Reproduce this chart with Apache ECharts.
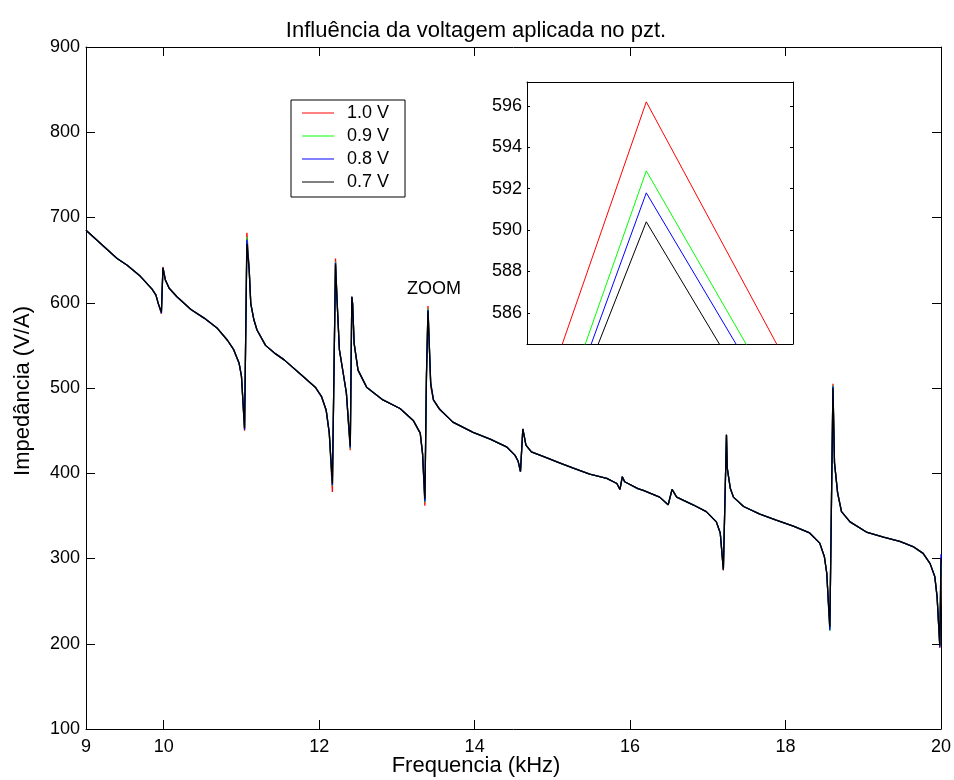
<!DOCTYPE html>
<html><head><meta charset="utf-8">
<script src="https://cdn.jsdelivr.net/npm/echarts@6/dist/echarts.min.js"></script>
<style>html,body{margin:0;padding:0;background:#fff}#c{width:954px;height:780px}</style>
</head><body><div id="c"></div>
<script>
// ---- data (frequency in kHz, impedance in V/A) ----
const freq = [9.00,9.23,9.40,9.53,9.70,9.85,9.90,9.93,9.97,9.99,
  10.02,10.07,10.17,10.35,10.52,10.69,10.82,10.90,10.97,11.00,
  11.04,11.07,11.10,11.12,11.16,11.20,11.31,11.44,11.55,11.75,
  11.95,12.03,12.09,12.13,12.17,12.21,12.23,12.26,12.31,12.35,
  12.40,12.42,12.43,12.45,12.50,12.61,12.82,13.04,13.21,13.30,
  13.33,13.36,13.38,13.40,13.435,13.47,13.55,13.72,13.98,14.20,
  14.41,14.52,14.56,14.59,14.62,14.66,14.73,14.93,15.10,15.27,
  15.48,15.70,15.83,15.87,15.90,15.93,16.10,16.17,16.38,16.49,
  16.54,16.60,16.81,16.98,17.11,17.16,17.20,17.24,17.25,17.29,
  17.33,17.46,17.67,17.88,18.10,18.31,18.44,18.50,18.53,18.57,
  18.61,18.63,18.67,18.72,18.83,19.04,19.26,19.47,19.64,19.77,
  19.86,19.92,19.95,19.985,20.00];

const v10 = [685,666,652,644,631,616,609,599,587,642,
  627,617,607,592,582,570,556,545,529,514,
  450,682,638,599,580,568,550,540,533,517,
  501,490,474,447,378,652,603,545,517,494,
  427,607,599,552,521,501,486,476,462,447,
  423,362,512.2,596.2,501.5,486,475,460,448,440,
  431,421,414,402,452,433,425,418,412,406,
  399,394,388,381,396,390,382,380,372,363,
  381,372,363,355,343,330,286,445,406,382,
  372,361,352,345,338,330,318,302,283,218,
  505,412,377,355,343,331,325,320,314,306,
  294,279,255,195,280];

const v09 = [685,666,652,644,631,616,609,599,588,641,
  627,617,607,592,582,570,556,545,529,514,
  452,677,638,599,580,568,550,540,533,517,
  501,490,474,447,385,648,603,545,517,494,
  429,607,599,552,521,501,486,476,462,447,
  423,366,510.2,592.86,504.4,486,475,460,448,440,
  431,421,414,402,452,433,425,418,412,406,
  399,394,388,381,396,390,382,380,372,363,
  381,372,363,355,343,330,287,445,406,382,
  372,361,352,345,338,330,318,302,283,215,
  503,412,377,355,343,331,325,320,314,306,
  294,279,255,197,295];

const v08 = [685,666,652,644,631,616,609,599,588,641,
  627,617,607,592,582,570,556,545,529,514,
  451,674,638,599,580,568,550,540,533,517,
  501,490,474,447,386,647,603,545,517,494,
  430,607,599,552,521,501,486,476,462,447,
  423,367,511.8,591.8,505.9,486,475,460,448,440,
  431,421,414,402,452,433,425,418,412,406,
  399,394,388,381,396,390,382,380,372,363,
  381,372,363,355,343,330,287,445,406,382,
  372,361,352,345,338,330,318,302,283,216,
  502,412,377,355,343,331,325,320,314,306,
  294,279,255,196,305];

const v07 = [685,666,652,644,631,616,609,599,589,641,
  627,617,607,592,582,570,556,545,529,514,
  453,669,638,599,580,568,550,540,533,517,
  501,490,474,447,388,645,603,545,517,494,
  432,607,599,552,521,501,486,476,462,447,
  423,370,516.3,590.4,505.1,486,475,460,448,440,
  431,421,414,402,452,433,425,418,412,406,
  399,394,388,381,396,390,382,380,372,363,
  381,372,363,355,343,330,287,445,406,382,
  372,361,352,345,338,330,318,302,283,220,
  500,412,377,355,343,331,325,320,314,306,
  294,279,255,198,300];

const seriesNames = ['1.0 V','0.9 V','0.8 V','0.7 V'];
const seriesValues = [v10, v09, v08, v07];
const xLabelValues = [9,10,12,14,16,18,20];
const xTickValues = [10,12,14,16,18];
const zoomTickValues = [586,588,590,592,594,596];
const titleText = 'Influência da voltagem aplicada no pzt.';
const xName = 'Frequencia (kHz)';
const yName = 'Impedância (V/A)';
const zoomText = 'ZOOM';

// ---- styles ----
const colors = ['#ff0000','#00ff00','#0000ff','#000000'];
const FONT = '"Liberation Sans", Arial, Helvetica, sans-serif';
const lineBlack = {show:true, lineStyle:{color:'#000', width:1}};
const lbl = {color:'#000', fontFamily:FONT, fontSize:18};

const chart = echarts.init(document.getElementById('c'), null, {renderer:'canvas'});

const mainSeries = seriesValues.map((vals, k) => ({
  name: seriesNames[k], type:'line', xAxisIndex:0, yAxisIndex:0,
  data: freq.map((f,i)=>[f, vals[i]]), symbol:'none', color: colors[k],
  lineStyle:{width:1.3, color:colors[k]}, z: 2 + k, silent:true
}));
const zoomSeries = seriesValues.map((vals, k) => ({
  name: seriesNames[k], type:'line', xAxisIndex:2, yAxisIndex:2,
  data: freq.map((f,i)=>[f, vals[i]]), symbol:'none', color: colors[k],
  lineStyle:{width:1, color:colors[k]}, z: 10 + k, clip:true, silent:true
}));

chart.setOption({
  animation:false,
  backgroundColor:'#fff',
  grid:[
    {left:86, top:47, width:855, height:682, containLabel:false},
    {left:527, top:82, width:266, height:262, show:true, backgroundColor:'#fff', borderWidth:0, z:5}
  ],
  xAxis:[
    {type:'value', gridIndex:0, min:9, max:20, position:'bottom',
      axisLine:lineBlack, splitLine:{show:false},
      axisTick:{show:true, inside:true, length:9, lineStyle:{color:'#000'}, customValues:xTickValues},
      axisLabel:Object.assign({margin:9, customValues:xLabelValues}, lbl)},
    {type:'value', gridIndex:0, min:9, max:20, position:'top',
      axisLine:lineBlack, splitLine:{show:false},
      axisTick:{show:true, inside:true, length:9, lineStyle:{color:'#000'}, customValues:xTickValues},
      axisLabel:{show:false}},
    {type:'value', gridIndex:1, min:13.39604, max:13.40487, position:'bottom', z:6,
      axisLine:lineBlack, splitLine:{show:false}, axisTick:{show:false}, axisLabel:{show:false}},
    {type:'value', gridIndex:1, min:13.39604, max:13.40487, position:'top', z:6,
      axisLine:lineBlack, splitLine:{show:false}, axisTick:{show:false}, axisLabel:{show:false}}
  ],
  yAxis:[
    {type:'value', gridIndex:0, min:100, max:900, interval:100, position:'left',
      axisLine:lineBlack, splitLine:{show:false},
      axisTick:{show:true, inside:true, length:9, lineStyle:{color:'#000'}},
      axisLabel:Object.assign({margin:6}, lbl)},
    {type:'value', gridIndex:0, min:100, max:900, interval:100, position:'right',
      axisLine:lineBlack, splitLine:{show:false},
      axisTick:{show:true, inside:true, length:9, lineStyle:{color:'#000'}},
      axisLabel:{show:false}},
    {type:'value', gridIndex:1, min:584.49, max:597.16, position:'left', z:6,
      axisLine:lineBlack, splitLine:{show:false},
      axisTick:{show:true, inside:true, length:3, lineStyle:{color:'#000'}, customValues:zoomTickValues},
      axisLabel:Object.assign({margin:5, customValues:zoomTickValues}, lbl)},
    {type:'value', gridIndex:1, min:584.49, max:597.16, position:'right', z:6,
      axisLine:lineBlack, splitLine:{show:false},
      axisTick:{show:true, inside:true, length:3, lineStyle:{color:'#000'}, customValues:zoomTickValues},
      axisLabel:{show:false}}
  ],
  legend:{
    data:seriesNames, left:291, top:100, orient:'vertical',
    icon:'rect', itemWidth:32, itemHeight:1, itemGap:5,
    padding:[4,16,6,11], borderColor:'#000', borderWidth:1, backgroundColor:'#fff',
    selectedMode:false,
    textStyle:{color:'#000', fontFamily:FONT, fontSize:18, lineHeight:18, padding:[0,0,0,8]}
  },
  series: mainSeries.concat(zoomSeries),
  graphic:[
    {type:'text', x:476, y:31, style:{text:titleText, fill:'#000', font:'22px '+FONT, textAlign:'center', textVerticalAlign:'middle'}},
    {type:'text', x:476, y:766, style:{text:xName, fill:'#000', font:'22px '+FONT, textAlign:'center', textVerticalAlign:'middle'}},
    {type:'text', x:23, y:391, rotation:Math.PI/2, style:{text:yName, fill:'#000', font:'22px '+FONT, textAlign:'center', textVerticalAlign:'middle'}},
    {type:'text', x:434, y:289, style:{text:zoomText, fill:'#000', font:'18px '+FONT, textAlign:'center', textVerticalAlign:'middle'}}
  ]
});
</script>
</body></html>
